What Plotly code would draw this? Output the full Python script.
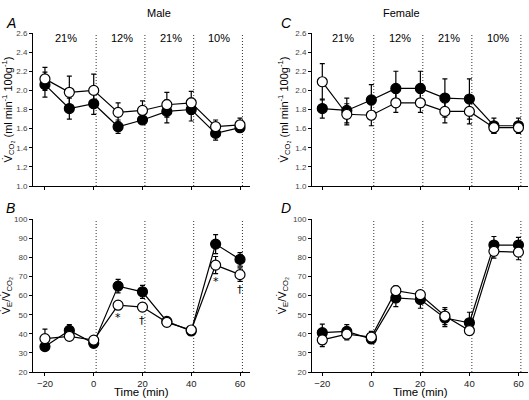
import plotly.graph_objects as go

time = [-20, -10, 0, 10, 20, 30, 40, 50, 60]

# Male VCO2 (panel A)
male_vco2_filled = [2.06, 1.81, 1.86, 1.62, 1.69, 1.78, 1.80, 1.55, 1.61]
male_vco2_filled_err = [0.13, 0.11, 0.11, 0.07, 0.04, 0.12, 0.12, 0.07, 0.04]
male_vco2_open = [2.12, 1.98, 2.00, 1.77, 1.79, 1.85, 1.87, 1.62, 1.64]
male_vco2_open_err = [0.12, 0.17, 0.17, 0.10, 0.10, 0.13, 0.12, 0.07, 0.07]

# Female VCO2 (panel C)
female_vco2_filled = [1.81, 1.79, 1.90, 2.02, 2.02, 1.92, 1.91, 1.63, 1.63]
female_vco2_filled_err = [0.10, 0.13, 0.16, 0.18, 0.18, 0.20, 0.21, 0.08, 0.08]
female_vco2_open = [2.09, 1.75, 1.74, 1.87, 1.87, 1.78, 1.78, 1.61, 1.61]
female_vco2_open_err = [0.19, 0.11, 0.11, 0.10, 0.10, 0.12, 0.13, 0.06, 0.06]

# Male VE/VCO2 (panel B)
male_ve_filled = [33.3, 41.8, 35.0, 65.0, 62.0, 46.5, 41.5, 87.0, 79.0]
male_ve_filled_err = [2.0, 3.0, 2.0, 3.5, 3.4, 2.0, 2.0, 5.0, 3.5]
male_ve_open = [37.5, 38.7, 36.7, 55.0, 54.0, 46.0, 42.0, 76.0, 71.0]
male_ve_open_err = [5.0, 2.0, 2.0, 2.0, 2.0, 2.0, 1.5, 4.5, 3.5]

# Female VE/VCO2 (panel D)
female_ve_filled = [40.6, 41.3, 37.3, 58.8, 58.0, 48.3, 45.8, 86.5, 86.5]
female_ve_filled_err = [4.5, 3.5, 2.0, 4.5, 4.6, 4.5, 5.5, 4.5, 4.0]
female_ve_open = [36.8, 39.8, 38.3, 62.6, 60.5, 49.3, 41.7, 83.2, 82.8]
female_ve_open_err = [3.5, 3.0, 3.0, 2.5, 2.0, 4.5, 2.0, 3.5, 4.0]

o2_labels = ["21%", "12%", "21%", "10%"]
o2_label_x = [-11.5, 11.5, 31.5, 51.5]
phase_lines = [1, 21, 41, 61]
x_ticks = [-20, 0, 20, 40, 60]

sig_B_text = ["*", "†", "*", "†"]
sig_B_x = [10, 20, 50, 60]
sig_B_y = [48.5, 47.0, 67.5, 63.0]

FONT = "Arial, Liberation Sans, sans-serif"

fig = go.Figure()

panels = [
    ("x", "y", male_vco2_filled, male_vco2_filled_err, male_vco2_open, male_vco2_open_err),
    ("x2", "y2", female_vco2_filled, female_vco2_filled_err, female_vco2_open, female_vco2_open_err),
    ("x3", "y3", male_ve_filled, male_ve_filled_err, male_ve_open, male_ve_open_err),
    ("x4", "y4", female_ve_filled, female_ve_filled_err, female_ve_open, female_ve_open_err),
]

for xa, ya, fv, fe, ov, oe in panels:
    fig.add_trace(go.Scatter(
        x=time, y=fv, xaxis=xa, yaxis=ya, mode="lines+markers",
        line=dict(color="black", width=1.2),
        marker=dict(size=10, color="black", line=dict(color="black", width=1.2)),
        error_y=dict(type="data", array=fe, symmetric=True, color="black", thickness=1.2, width=2.5),
        showlegend=False, cliponaxis=False))
    fig.add_trace(go.Scatter(
        x=time, y=ov, xaxis=xa, yaxis=ya, mode="lines+markers",
        line=dict(color="black", width=1.2),
        marker=dict(size=10, color="white", line=dict(color="black", width=1.2)),
        error_y=dict(type="data", array=oe, symmetric=True, color="black", thickness=1.2, width=2.5),
        showlegend=False, cliponaxis=False))

W, H = 529, 400
dom_left = [33 / W, 250 / W]
dom_right = [312 / W, 528 / W]
dom_top = [1 - 186 / H, 1 - 33 / H]
dom_bot = [1 - 372 / H, 1 - 219.3 / H]

xrange_left = [-24.9, 64.1]
xrange_right = [-24.2, 63.9]

common_x = dict(showgrid=False, zeroline=False, showline=True, linecolor="black", linewidth=1,
                ticks="outside", ticklen=3, tickcolor="black", tickvals=x_ticks, automargin=False,
                tickfont=dict(family=FONT, size=9.5, color="#222"))
common_y = dict(showgrid=False, zeroline=False, showline=True, linecolor="black", linewidth=1,
                ticks="outside", ticklen=3, tickcolor="black", automargin=False,
                tickfont=dict(family=FONT, size=8, color="#444"))

vco2_title = dict(text="V̇<sub>CO₂</sub> (ml min<sup>-1</sup> 100g<sup>-1</sup>)",
                  font=dict(family=FONT, size=11, color="black"), standoff=4)
ve_title = dict(text="V̇<sub>E</sub>/V̇<sub>CO₂</sub>",
                font=dict(family=FONT, size=11, color="black"), standoff=4)

fig.update_layout(
    width=W, height=H, margin=dict(l=0, r=0, t=0, b=0),
    paper_bgcolor="white", plot_bgcolor="white",
    xaxis=dict(common_x, domain=dom_left, range=xrange_left, anchor="y", showticklabels=False),
    yaxis=dict(common_y, domain=dom_top, range=[1.0, 2.6], dtick=0.2, tickformat=".1f", anchor="x", title=vco2_title),
    xaxis2=dict(common_x, domain=dom_right, range=xrange_right, anchor="y2", showticklabels=False),
    yaxis2=dict(common_y, domain=dom_top, range=[1.0, 2.6], dtick=0.2, tickformat=".1f", anchor="x2", title=vco2_title),
    xaxis3=dict(common_x, domain=dom_left, range=xrange_left, anchor="y3"),
    yaxis3=dict(common_y, domain=dom_bot, range=[20, 100], dtick=10, anchor="x3", title=ve_title),
    xaxis4=dict(common_x, domain=dom_right, range=xrange_right, anchor="y4"),
    yaxis4=dict(common_y, domain=dom_bot, range=[20, 100], dtick=10, anchor="x4", title=ve_title),
)

shapes = []
for xa, ya in [("x", "y"), ("x2", "y2"), ("x3", "y3"), ("x4", "y4")]:
    for px in phase_lines:
        shapes.append(dict(type="line", xref=xa, yref=ya + " domain", x0=px, x1=px, y0=0, y1=1,
                           line=dict(color="#333", width=1, dash="1px,2px"), layer="below"))
fig.update_layout(shapes=shapes)

ann = []
for xa, ya in [("x", "y"), ("x2", "y2")]:
    for t, px in zip(o2_labels, o2_label_x):
        ann.append(dict(text=t, x=px, y=2.55, xref=xa, yref=ya, showarrow=False, yanchor="middle",
                        font=dict(family=FONT, size=11, color="black")))
for t, px, py in zip(sig_B_text, sig_B_x, sig_B_y):
    ann.append(dict(text=t, x=px, y=py, xref="x3", yref="y3", showarrow=False, yanchor="middle",
                    font=dict(family="DejaVu Sans, Arial", size=11, color="black")))
for t, px, py in [("A", 4, 1 - 23 / H), ("C", 279, 1 - 23 / H), ("B", 4, 1 - 208 / H), ("D", 279, 1 - 208 / H)]:
    ann.append(dict(text="<i>" + t + "</i>", x=px / W, y=py, xref="paper", yref="paper", showarrow=False,
                    xanchor="left", yanchor="middle", font=dict(family=FONT, size=14, color="black")))
ann.append(dict(text="Male", x=145 / W, y=1 - 13 / H, xref="paper", yref="paper", showarrow=False,
                yanchor="middle", font=dict(family=FONT, size=11, color="black")))
ann.append(dict(text="Female", x=422 / W, y=1 - 13 / H, xref="paper", yref="paper", showarrow=False,
                yanchor="middle", font=dict(family=FONT, size=11, color="black")))
for xa in ["x3 domain", "x4 domain"]:
    ann.append(dict(text="Time (min)", x=0.5, y=0, xref=xa, yref="paper", showarrow=False,
                    yanchor="bottom", font=dict(family=FONT, size=11.5, color="black")))
fig.update_layout(annotations=ann)

fig.write_html("out.html", config={"displayModeBar": False},
               post_script="document.body.style.margin='0';")
